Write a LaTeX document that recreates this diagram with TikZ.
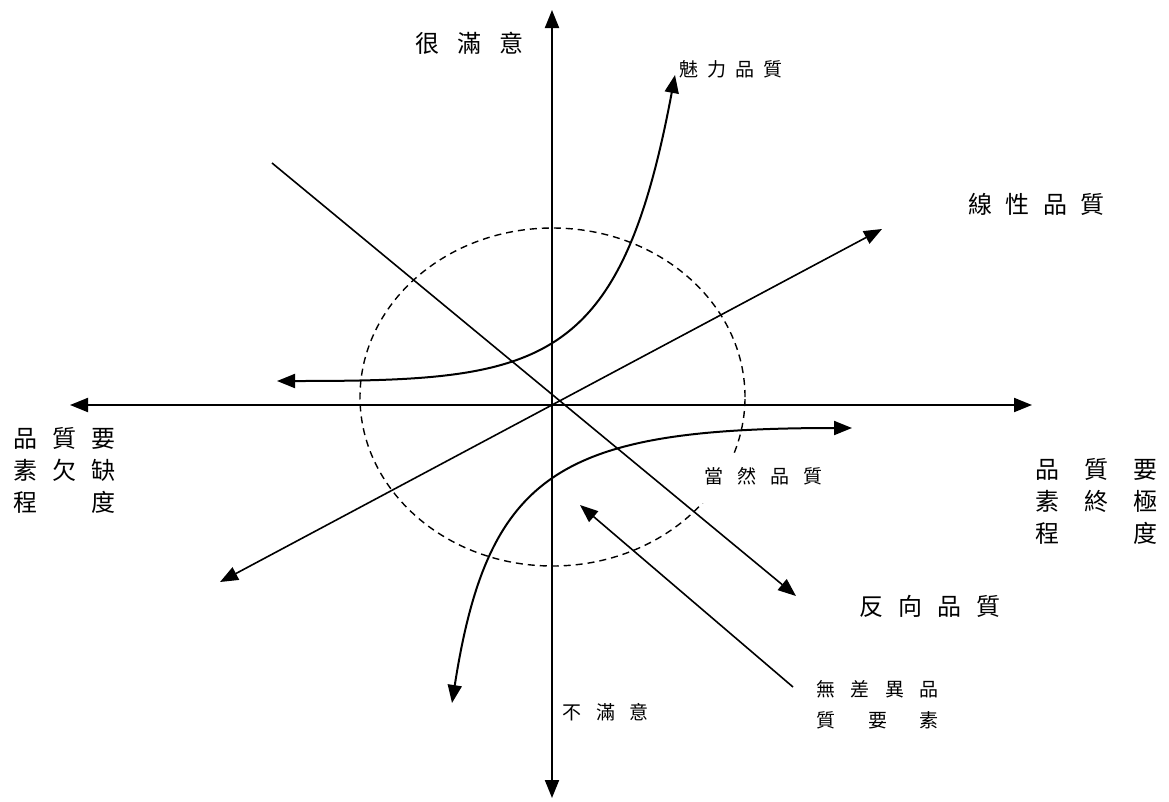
\documentclass[tikz,border=0pt]{standalone}
\usepackage{fontspec}
\newfontfamily\cjk{Noto Sans CJK TC}
\usetikzlibrary{arrows.meta}
\newcommand\gp[1]{\kern#1pt\relax}
\begin{document}
\begin{tikzpicture}[x=1pt,y=-1pt,
  >={Triangle[length=18pt,width=14pt]},
  axis/.style={line width=2pt,<->},
  thinline/.style={line width=1.6pt},
  curve/.style={line width=2pt,<->},
  ring/.style={line width=1.4pt,dash pattern=on 7pt off 5pt},
  big/.style={font=\cjk\fontsize{24}{32}\selectfont,inner sep=0pt},
  small/.style={font=\cjk\fontsize{19}{31}\selectfont,inner sep=0pt}]
\useasboundingbox (0,0) rectangle (1169,801);
% end points
\coordinate (top) at (552,10);
\coordinate (bot) at (552,798);
\coordinate (lft) at (70,405);
\coordinate (rgt) at (1032,405);
\coordinate (revS) at (272,163);
\coordinate (revE) at (796,596);
\coordinate (linS) at (220,582);
\coordinate (linE) at (882,229);
\coordinate (attS) at (277,381);
\coordinate (attE) at (675,75);
\coordinate (mustS) at (852,428);
\coordinate (mustE) at (452,703);
\coordinate (indS) at (793,687);
\coordinate (indE) at (580,505);
% dashed ring
\draw[ring] (552.5,397) ellipse [x radius=192.5pt, y radius=169pt];
\fill[white] (700,457) rectangle (826,503);
% axes
\draw[axis] (bot) -- (top);
\draw[axis] (lft) -- (rgt);
% lines
\draw[thinline,->] (revS) -- (revE);
\draw[thinline,<->] (linS) -- (linE);
\draw[thinline,->] (indS) -- (indE);
% curves
\draw[curve] (attS) .. controls (540,381) and (620,370) .. (attE);
\draw[curve] (mustS) .. controls (560,428) and (488,472) .. (mustE);
% labels
\node[big] (vs) at (469,43) {很\gp{18}滿\gp{18}意};
\node[small] (attr) at (731,69) {魅\gp{9}力\gp{9}品\gp{9}質};
\node[big] (lin) at (1036.5,204) {線\gp{13.3}性\gp{13.3}品\gp{13.3}質};
\node[big] (rev) at (930,606) {反\gp{14.7}向\gp{14.7}品\gp{14.7}質};
\node[small] (must) at (763.5,476) {當\gp{13.8}然\gp{13.8}品\gp{13.8}質};
\node[small] (dis) at (605.5,712) {不\gp{14.2}滿\gp{14.2}意};
\node[small,align=left] (ind) at (877.5,704.5) {無\gp{15.3}差\gp{15.3}異\gp{15.3}品\\質\gp{32.5}要\gp{32.5}素};
\node[big,align=left] (lack) at (64,470) {品\gp{15}質\gp{15}要\\素\gp{15}欠\gp{15}缺\\程\gp{54}度};
\node[big,align=left] (full) at (1096,501) {品\gp{25}質\gp{25}要\\素\gp{25}終\gp{25}極\\程\gp{74}度};
\end{tikzpicture}
\end{document}
